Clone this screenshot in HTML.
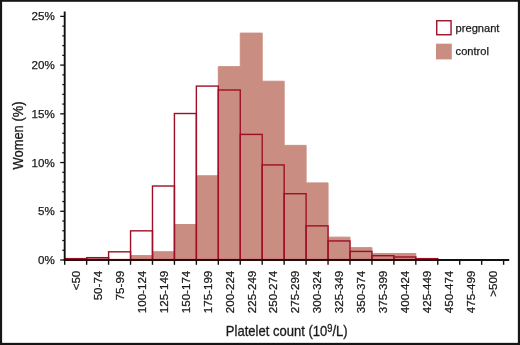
<!DOCTYPE html>
<html><head><meta charset="utf-8"><title>Platelet count histogram</title>
<style>
html,body{margin:0;padding:0;background:#fff;}
body{width:520px;height:345px;overflow:hidden;position:relative;}
text{font-family:"Liberation Sans",Arial,Helvetica,sans-serif;fill:#1a1a1a;}
.t{font-size:11.6px;stroke:#1a1a1a;stroke-width:0.25px;}
.l{font-size:11.1px;stroke:#1a1a1a;stroke-width:0.25px;}
.a{font-size:14px;stroke:#1a1a1a;stroke-width:0.3px;}
</style></head><body>
<svg width="520" height="345" viewBox="0 0 520 345" style="position:absolute;left:0;top:0">
<rect x="0" y="0" width="520" height="345" fill="#fff"/>
<path d="M64.70 259.60 L64.70 259.60 L86.65 259.60 L86.65 258.14 L108.59 258.14 L108.59 259.60 L130.53 259.60 L130.54 255.61 L152.48 255.61 L152.48 251.73 L174.43 251.73 L174.43 224.51 L196.37 224.51 L196.37 175.81 L218.31 175.81 L218.31 66.66 L240.26 66.66 L240.26 33.12 L262.20 33.12 L262.20 81.24 L284.15 81.24 L284.15 145.39 L306.09 145.39 L306.10 182.91 L328.04 182.91 L328.04 237.15 L349.99 237.15 L349.99 247.64 L371.93 247.64 L371.93 253.48 L393.88 253.48 L393.88 253.48 L415.82 253.48 L415.82 259.11 L437.76 259.11 L437.76 259.60 L459.71 259.60 L459.71 259.60 L481.65 259.60 L481.65 259.60 L503.60 259.60 L503.60 259.60 Z" fill="#ca8d82" stroke="#ca8d82" stroke-width="1" stroke-linejoin="miter"/>
<rect x="64.70" y="258.63" width="21.95" height="0.97" fill="none" stroke="#9e0f27" stroke-width="1.4"/>
<rect x="86.65" y="257.66" width="21.95" height="1.94" fill="none" stroke="#9e0f27" stroke-width="1.4"/>
<rect x="108.59" y="251.82" width="21.95" height="7.78" fill="none" stroke="#9e0f27" stroke-width="1.4"/>
<rect x="130.54" y="230.83" width="21.95" height="28.77" fill="none" stroke="#9e0f27" stroke-width="1.4"/>
<rect x="152.48" y="186.02" width="21.95" height="73.58" fill="none" stroke="#9e0f27" stroke-width="1.4"/>
<rect x="174.43" y="113.51" width="21.95" height="146.09" fill="none" stroke="#9e0f27" stroke-width="1.4"/>
<rect x="196.37" y="86.10" width="21.95" height="173.50" fill="none" stroke="#9e0f27" stroke-width="1.4"/>
<rect x="218.31" y="89.99" width="21.95" height="169.61" fill="none" stroke="#9e0f27" stroke-width="1.4"/>
<rect x="240.26" y="134.41" width="21.95" height="125.19" fill="none" stroke="#9e0f27" stroke-width="1.4"/>
<rect x="262.20" y="164.93" width="21.95" height="94.67" fill="none" stroke="#9e0f27" stroke-width="1.4"/>
<rect x="284.15" y="193.70" width="21.95" height="65.90" fill="none" stroke="#9e0f27" stroke-width="1.4"/>
<rect x="306.10" y="225.87" width="21.95" height="33.73" fill="none" stroke="#9e0f27" stroke-width="1.4"/>
<rect x="328.04" y="240.94" width="21.95" height="18.66" fill="none" stroke="#9e0f27" stroke-width="1.4"/>
<rect x="349.99" y="251.44" width="21.95" height="8.16" fill="none" stroke="#9e0f27" stroke-width="1.4"/>
<rect x="371.93" y="255.71" width="21.95" height="3.89" fill="none" stroke="#9e0f27" stroke-width="1.4"/>
<rect x="393.88" y="256.98" width="21.95" height="2.62" fill="none" stroke="#9e0f27" stroke-width="1.4"/>
<rect x="415.82" y="258.63" width="21.95" height="0.97" fill="none" stroke="#9e0f27" stroke-width="1.4"/>
<line x1="64.7" y1="11.5" x2="64.7" y2="260.6" stroke="#111" stroke-width="1.9"/>
<line x1="63.75" y1="259.95000000000005" x2="440" y2="259.95000000000005" stroke="#2a0a0e" stroke-width="2"/>
<line x1="440" y1="259.95000000000005" x2="509.2" y2="259.95000000000005" stroke="#111" stroke-width="2"/>
<line x1="60.2" y1="260.00" x2="64.7" y2="260.00" stroke="#111" stroke-width="1.3"/>
<text x="54.8" y="264.00" text-anchor="end" class="t">0%</text>
<line x1="62.300000000000004" y1="250.25" x2="64.7" y2="250.25" stroke="#111" stroke-width="1.25"/>
<line x1="62.300000000000004" y1="240.51" x2="64.7" y2="240.51" stroke="#111" stroke-width="1.25"/>
<line x1="62.300000000000004" y1="230.76" x2="64.7" y2="230.76" stroke="#111" stroke-width="1.25"/>
<line x1="62.300000000000004" y1="221.02" x2="64.7" y2="221.02" stroke="#111" stroke-width="1.25"/>
<line x1="60.2" y1="211.28" x2="64.7" y2="211.28" stroke="#111" stroke-width="1.3"/>
<text x="54.8" y="215.28" text-anchor="end" class="t">5%</text>
<line x1="62.300000000000004" y1="201.53" x2="64.7" y2="201.53" stroke="#111" stroke-width="1.25"/>
<line x1="62.300000000000004" y1="191.79" x2="64.7" y2="191.79" stroke="#111" stroke-width="1.25"/>
<line x1="62.300000000000004" y1="182.04" x2="64.7" y2="182.04" stroke="#111" stroke-width="1.25"/>
<line x1="62.300000000000004" y1="172.30" x2="64.7" y2="172.30" stroke="#111" stroke-width="1.25"/>
<line x1="60.2" y1="162.55" x2="64.7" y2="162.55" stroke="#111" stroke-width="1.3"/>
<text x="54.8" y="166.55" text-anchor="end" class="t">10%</text>
<line x1="62.300000000000004" y1="152.81" x2="64.7" y2="152.81" stroke="#111" stroke-width="1.25"/>
<line x1="62.300000000000004" y1="143.06" x2="64.7" y2="143.06" stroke="#111" stroke-width="1.25"/>
<line x1="62.300000000000004" y1="133.31" x2="64.7" y2="133.31" stroke="#111" stroke-width="1.25"/>
<line x1="62.300000000000004" y1="123.57" x2="64.7" y2="123.57" stroke="#111" stroke-width="1.25"/>
<line x1="60.2" y1="113.83" x2="64.7" y2="113.83" stroke="#111" stroke-width="1.3"/>
<text x="54.8" y="117.83" text-anchor="end" class="t">15%</text>
<line x1="62.300000000000004" y1="104.08" x2="64.7" y2="104.08" stroke="#111" stroke-width="1.25"/>
<line x1="62.300000000000004" y1="94.34" x2="64.7" y2="94.34" stroke="#111" stroke-width="1.25"/>
<line x1="62.300000000000004" y1="84.59" x2="64.7" y2="84.59" stroke="#111" stroke-width="1.25"/>
<line x1="62.300000000000004" y1="74.85" x2="64.7" y2="74.85" stroke="#111" stroke-width="1.25"/>
<line x1="60.2" y1="65.10" x2="64.7" y2="65.10" stroke="#111" stroke-width="1.3"/>
<text x="54.8" y="69.10" text-anchor="end" class="t">20%</text>
<line x1="62.300000000000004" y1="55.36" x2="64.7" y2="55.36" stroke="#111" stroke-width="1.25"/>
<line x1="62.300000000000004" y1="45.61" x2="64.7" y2="45.61" stroke="#111" stroke-width="1.25"/>
<line x1="62.300000000000004" y1="35.87" x2="64.7" y2="35.87" stroke="#111" stroke-width="1.25"/>
<line x1="62.300000000000004" y1="26.12" x2="64.7" y2="26.12" stroke="#111" stroke-width="1.25"/>
<line x1="60.2" y1="16.38" x2="64.7" y2="16.38" stroke="#111" stroke-width="1.3"/>
<text x="54.8" y="20.38" text-anchor="end" class="t">25%</text>
<line x1="64.70" y1="259.6" x2="64.70" y2="264.8" stroke="#111" stroke-width="1.4"/>
<line x1="86.65" y1="259.6" x2="86.65" y2="264.8" stroke="#111" stroke-width="1.4"/>
<line x1="108.59" y1="259.6" x2="108.59" y2="264.8" stroke="#111" stroke-width="1.4"/>
<line x1="130.54" y1="259.6" x2="130.54" y2="264.8" stroke="#111" stroke-width="1.4"/>
<line x1="152.48" y1="259.6" x2="152.48" y2="264.8" stroke="#111" stroke-width="1.4"/>
<line x1="174.43" y1="259.6" x2="174.43" y2="264.8" stroke="#111" stroke-width="1.4"/>
<line x1="196.37" y1="259.6" x2="196.37" y2="264.8" stroke="#111" stroke-width="1.4"/>
<line x1="218.31" y1="259.6" x2="218.31" y2="264.8" stroke="#111" stroke-width="1.4"/>
<line x1="240.26" y1="259.6" x2="240.26" y2="264.8" stroke="#111" stroke-width="1.4"/>
<line x1="262.20" y1="259.6" x2="262.20" y2="264.8" stroke="#111" stroke-width="1.4"/>
<line x1="284.15" y1="259.6" x2="284.15" y2="264.8" stroke="#111" stroke-width="1.4"/>
<line x1="306.10" y1="259.6" x2="306.10" y2="264.8" stroke="#111" stroke-width="1.4"/>
<line x1="328.04" y1="259.6" x2="328.04" y2="264.8" stroke="#111" stroke-width="1.4"/>
<line x1="349.99" y1="259.6" x2="349.99" y2="264.8" stroke="#111" stroke-width="1.4"/>
<line x1="371.93" y1="259.6" x2="371.93" y2="264.8" stroke="#111" stroke-width="1.4"/>
<line x1="393.88" y1="259.6" x2="393.88" y2="264.8" stroke="#111" stroke-width="1.4"/>
<line x1="415.82" y1="259.6" x2="415.82" y2="264.8" stroke="#111" stroke-width="1.4"/>
<line x1="437.76" y1="259.6" x2="437.76" y2="264.8" stroke="#111" stroke-width="1.4"/>
<line x1="459.71" y1="259.6" x2="459.71" y2="264.8" stroke="#111" stroke-width="1.4"/>
<line x1="481.65" y1="259.6" x2="481.65" y2="264.8" stroke="#111" stroke-width="1.4"/>
<line x1="503.60" y1="259.6" x2="503.60" y2="264.8" stroke="#111" stroke-width="1.4"/>
<text transform="translate(79.97,270.7) rotate(-90)" text-anchor="end" class="t">&lt;50</text>
<text transform="translate(101.92,270.7) rotate(-90)" text-anchor="end" class="t">50-74</text>
<text transform="translate(123.86,270.7) rotate(-90)" text-anchor="end" class="t">75-99</text>
<text transform="translate(145.81,270.7) rotate(-90)" text-anchor="end" class="t">100-124</text>
<text transform="translate(167.75,270.7) rotate(-90)" text-anchor="end" class="t">125-149</text>
<text transform="translate(189.70,270.7) rotate(-90)" text-anchor="end" class="t">150-174</text>
<text transform="translate(211.64,270.7) rotate(-90)" text-anchor="end" class="t">175-199</text>
<text transform="translate(233.59,270.7) rotate(-90)" text-anchor="end" class="t">200-224</text>
<text transform="translate(255.53,270.7) rotate(-90)" text-anchor="end" class="t">225-249</text>
<text transform="translate(277.48,270.7) rotate(-90)" text-anchor="end" class="t">250-274</text>
<text transform="translate(299.42,270.7) rotate(-90)" text-anchor="end" class="t">275-299</text>
<text transform="translate(321.37,270.7) rotate(-90)" text-anchor="end" class="t">300-324</text>
<text transform="translate(343.31,270.7) rotate(-90)" text-anchor="end" class="t">325-349</text>
<text transform="translate(365.26,270.7) rotate(-90)" text-anchor="end" class="t">350-374</text>
<text transform="translate(387.20,270.7) rotate(-90)" text-anchor="end" class="t">375-399</text>
<text transform="translate(409.15,270.7) rotate(-90)" text-anchor="end" class="t">400-424</text>
<text transform="translate(431.09,270.7) rotate(-90)" text-anchor="end" class="t">425-449</text>
<text transform="translate(453.04,270.7) rotate(-90)" text-anchor="end" class="t">450-474</text>
<text transform="translate(474.98,270.7) rotate(-90)" text-anchor="end" class="t">475-499</text>
<text transform="translate(496.93,270.7) rotate(-90)" text-anchor="end" class="t">&gt;500</text>
<text transform="translate(23.3,135.5) rotate(-90) scale(0.925,1)" text-anchor="middle" class="a">Women (%)</text>
<text transform="translate(225.8,335.9) scale(0.932,1)" class="a">Platelet count (10<tspan dy="-3.7" style="font-size:10px">9</tspan><tspan dy="3.7">/L)</tspan></text>
<rect x="436.75" y="20.75" width="14.3" height="14" fill="#fff" stroke="#9e0f27" stroke-width="1.4"/>
<rect x="436" y="43.7" width="15.8" height="15.7" fill="#ca8d82"/>
<text x="455.6" y="31.7" class="l">pregnant</text>
<text x="455.6" y="54.6" class="l">control</text>
<rect x="0" y="0" width="520" height="1.8" fill="#161616"/>
<rect x="0" y="0" width="2.1" height="345" fill="#161616"/>
<rect x="517.85" y="0" width="2.15" height="345" fill="#161616"/>
<rect x="0" y="342.85" width="520" height="2.15" fill="#161616"/>
</svg>
</body></html>
